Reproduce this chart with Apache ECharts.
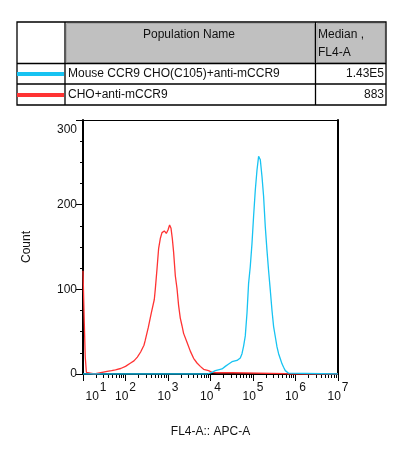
<!DOCTYPE html>
<html>
<head>
<meta charset="utf-8">
<script src="https://cdn.jsdelivr.net/npm/echarts@6/dist/echarts.min.js"></script>
<style>
  html, body { margin: 0; padding: 0; background: #fff; }
  #chart { width: 399px; height: 454px; }
</style>
</head>
<body>
<div id="chart"></div>
<script>
// populations shown in the header table
const popNames = ['Mouse CCR9 CHO(C105)+anti-mCCR9', 'CHO+anti-mCCR9']
const popMedians = ['1.43E5', '883']
const popColors = ['#17c3f2', '#ff3333']

// histogram of CHO+anti-mCCR9 (FL4-A value, count)
const redX = [10, 10.7, 11.3, 12, 12.6, 18.5, 19.5, 37, 47, 58, 77, 100, 132, 158, 190, 227, 272,
  292, 344, 404, 476, 502, 551, 601, 659, 722, 819, 912, 1000, 1091, 1178, 1263, 1355, 1486,
  1629, 1775, 1946, 2134, 2327, 2798, 3348, 4002, 4809, 5754, 6883, 9021, 10840, 14220,
  32060, 34370, 575000, 676000, 1e7]
const redCount = [122, 62, 20, 2, 0, 0, 2, 3, 4, 5, 6.5, 9, 13, 15.5, 20, 26, 34,
  40, 55, 72, 88, 100, 124, 148, 160, 167, 169, 166, 170, 176, 172, 160, 144, 116,
  101, 81, 66, 57, 48, 37.6, 27, 18.5, 13, 9, 5.5, 4, 2, 1.5,
  1.5, 0.5, 0.5, 0, 0]

// histogram of Mouse CCR9 CHO(C105)+anti-mCCR9
const blueX = [10, 8414, 9021, 10840, 12970, 15260, 18660, 22300, 26240, 32060, 42060, 50240,
  55080, 60100, 65860, 72240, 78760, 86300, 94600, 103200, 113200, 124200, 135500, 148600,
  162900, 177500, 194600, 213300, 232800, 255300, 279900, 305500, 334900, 367100, 400300,
  438900, 481200, 524800, 575400, 630900, 688500, 755100, 1e7]
const blueCount = [0, 0, 1.5, 2, 4, 5, 6, 9, 11.5, 14.5, 16, 19,
  24, 33, 45, 72, 107, 127, 154, 186, 217, 241, 257, 253,
  233, 210, 174, 146, 122, 99, 75, 56, 44, 32, 24,
  18, 12, 8, 4, 2, 1, 0, 0]

// axis ticks
const xMajor = [1e1, 1e2, 1e3, 1e4, 1e5, 1e6, 1e7]
const xMinor = []
for (let p = 1; p < 7; p++) {
  for (let k = 2; k <= 9; k++) xMinor.push(k * Math.pow(10, p))
}
const yTicks = [0, 100, 200, 300]

const zip = (xs, ys) => xs.map((x, i) => [x, ys[i]])

const chart = echarts.init(document.getElementById('chart'))

const FONT = 'Liberation Sans, Arial, sans-serif'

// header table
const tbl = { x0: 17, x1: 65, x2: 315.5, x3: 386, y0: 22, y1: 63.5, y2: 84, y3: 105 }
const tableGraphic = [
  { type: 'rect', shape: { x: 66.5, y: 23.5, width: 248, height: 39 },
    style: { fill: '#c0c0c0', stroke: '#a8a8a8', lineWidth: 1 } },
  { type: 'rect', shape: { x: 317, y: 23.5, width: 68, height: 39 },
    style: { fill: '#c0c0c0', stroke: '#a8a8a8', lineWidth: 1 } },
  { type: 'rect', shape: { x: tbl.x0, y: tbl.y0, width: tbl.x3 - tbl.x0, height: tbl.y3 - tbl.y0 },
    style: { fill: 'none', stroke: '#000', lineWidth: 1.3 } },
  { type: 'line', shape: { x1: tbl.x1, y1: tbl.y0, x2: tbl.x1, y2: tbl.y3 }, style: { stroke: '#000', lineWidth: 1.3 } },
  { type: 'line', shape: { x1: tbl.x2, y1: tbl.y0, x2: tbl.x2, y2: tbl.y3 }, style: { stroke: '#000', lineWidth: 1.3 } },
  { type: 'line', shape: { x1: tbl.x0, y1: tbl.y1, x2: tbl.x3, y2: tbl.y1 }, style: { stroke: '#000', lineWidth: 1.3 } },
  { type: 'line', shape: { x1: tbl.x0, y1: tbl.y2, x2: tbl.x3, y2: tbl.y2 }, style: { stroke: '#000', lineWidth: 1.3 } },
  { type: 'text', style: { text: 'Population Name', x: 189, y: 35, font: '12px ' + FONT, fill: '#111',
    align: 'center', verticalAlign: 'middle', textAlign: 'center', textVerticalAlign: 'middle' } },
  { type: 'text', style: { text: 'Median ,', x: 318, y: 35, font: '12px ' + FONT, fill: '#111',
    align: 'left', verticalAlign: 'middle', textAlign: 'left', textVerticalAlign: 'middle' } },
  { type: 'text', style: { text: 'FL4-A', x: 318, y: 53, font: '12px ' + FONT, fill: '#111',
    align: 'left', verticalAlign: 'middle', textAlign: 'left', textVerticalAlign: 'middle' } }
]
const rowY = [74, 95]
popNames.forEach((name, i) => {
  tableGraphic.push(
    { type: 'line', shape: { x1: tbl.x0, y1: rowY[i], x2: tbl.x1 - 1, y2: rowY[i] },
      style: { stroke: popColors[i], lineWidth: 4 } },
    { type: 'text', style: { text: name, x: 68, y: rowY[i], font: '12px ' + FONT, fill: '#111',
      align: 'left', verticalAlign: 'middle', textAlign: 'left', textVerticalAlign: 'middle' } },
    { type: 'text', style: { text: popMedians[i], x: 384, y: rowY[i], font: '12px ' + FONT, fill: '#111',
      align: 'right', verticalAlign: 'middle', textAlign: 'right', textVerticalAlign: 'middle' } }
  )
})

chart.setOption({
  animation: false,
  backgroundColor: '#fff',
  textStyle: { fontFamily: FONT },
  graphic: tableGraphic,
  grid: { left: 83, top: 120, width: 255, height: 254 },
  xAxis: [
    {
      type: 'log', logBase: 10, min: 10, max: 1e7, position: 'bottom',
      name: 'FL4-A:: APC-A', nameLocation: 'middle', nameGap: 52,
      nameTextStyle: { fontSize: 12, color: '#111', fontFamily: FONT },
      axisLine: { show: true, lineStyle: { color: '#000', width: 2 } },
      axisTick: { show: true, length: 7, customValues: xMajor, lineStyle: { color: '#000', width: 1 } },
      minorTick: { show: false },
      splitLine: { show: false },
      axisLabel: {
        customValues: xMajor, margin: 8,
        formatter: v => {
          const p = Math.round(Math.log10(v))
          return (p === 1 ? '{f|10}' : '{b|10}') + '{s|' + p + '}'
        },
        rich: {
          b: { fontSize: 12, color: '#111', fontFamily: FONT, padding: [9, 0, 0, 0] },
          f: { fontSize: 12, color: '#111', fontFamily: FONT, padding: [9, 0, 0, 26] },
          s: { fontSize: 12, color: '#111', fontFamily: FONT, padding: [0, 0, 9, 1] }
        }
      }
    },
    {
      type: 'log', logBase: 10, min: 10, max: 1e7, position: 'bottom', gridIndex: 0,
      axisLine: { show: false },
      axisTick: { show: true, length: 4, customValues: xMinor, lineStyle: { color: '#000', width: 1 } },
      axisLabel: { show: false },
      splitLine: { show: false }
    },
    {
      type: 'log', logBase: 10, min: 10, max: 1e7, position: 'top', gridIndex: 0,
      axisLine: { show: true, lineStyle: { color: '#000', width: 1 } },
      axisTick: { show: false }, axisLabel: { show: false }, splitLine: { show: false }
    }
  ],
  yAxis: [
    {
      type: 'value', min: 0, max: 300, interval: 100,
      name: 'Count', nameLocation: 'middle', nameGap: 50,
      nameTextStyle: { fontSize: 12, color: '#111', fontFamily: FONT },
      axisLine: { show: true, lineStyle: { color: '#000', width: 2 } },
      axisTick: { show: true, length: 7, lineStyle: { color: '#000', width: 1 } },
      minorTick: { show: true, splitNumber: 4, length: 3, lineStyle: { color: '#000', width: 1 } },
      splitLine: { show: false },
      axisLabel: {
        margin: 6, fontSize: 12, color: '#111',
        formatter: v => v === yTicks[yTicks.length - 1] ? '{t|' + v + '}' : String(v),
        rich: { t: { fontSize: 12, color: '#111', fontFamily: FONT, padding: [20, 0, 0, 0] } }
      }
    },
    {
      type: 'value', min: 0, max: 300, position: 'right',
      axisLine: { show: true, lineStyle: { color: '#000', width: 2 } },
      axisTick: { show: false }, axisLabel: { show: false }, splitLine: { show: false }
    }
  ],
  series: [
    {
      name: popNames[1], type: 'line', xAxisIndex: 0, yAxisIndex: 0,
      data: zip(redX, redCount), showSymbol: false, symbol: 'none',
      lineStyle: { color: popColors[1], width: 1.3 }, z: 2
    },
    {
      name: popNames[0], type: 'line', xAxisIndex: 0, yAxisIndex: 0,
      data: zip(blueX, blueCount), showSymbol: false, symbol: 'none',
      lineStyle: { color: popColors[0], width: 1.3 }, z: 3
    }
  ]
})
</script>
</body>
</html>
